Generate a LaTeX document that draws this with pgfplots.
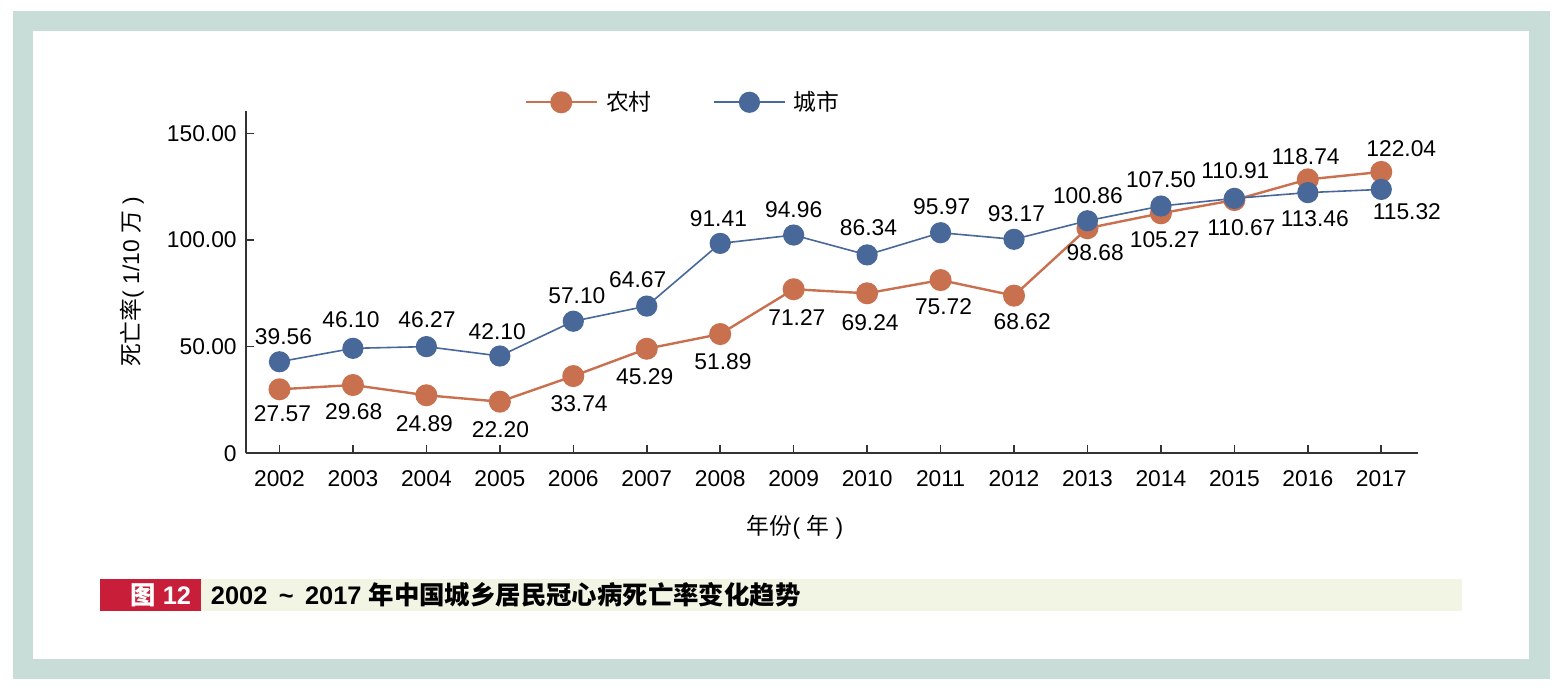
\documentclass[border=0pt]{standalone}
\usepackage{fontspec}
\setmainfont{Liberation Sans}
\newfontfamily\cjk{Noto Sans CJK SC}
\usepackage{pgfplots}
\usepackage{pgfplotstable}
\pgfplotsset{compat=1.18}
\definecolor{ruralc}{RGB}{201,112,79}
\definecolor{urbanc}{RGB}{72,104,154}
\definecolor{framec}{RGB}{200,221,216}
\definecolor{capred}{RGB}{200,30,58}
\definecolor{capbg}{RGB}{242,245,228}
\definecolor{axisgray}{RGB}{51,51,51}

% x: year index, y: plotted position, lbl: printed value, dx/dy: label offset (pt)
\pgfplotstableread{
x y lbl dx dy
0 30.0 27.57 1.5 -12.0
1 32.0 29.68 0.4 -13.3
2 27.2 24.89 -1.0 -14.0
3 24.2 22.20 0.3 -13.8
4 36.2 33.74 2.9 -13.6
5 49.0 45.29 -1.0 -14.0
6 55.9 51.89 1.4 -13.8
7 76.9 71.27 1.6 -14.0
8 75.0 69.24 1.5 -14.7
9 81.2 75.72 1.5 -13.3
10 73.9 68.62 4.1 -13.0
11 105.5 98.68 3.9 -12.2
12 112.5 105.27 1.9 -13.0
13 118.7 110.67 3.5 -13.8
14 128.4 118.74 -1.1 11.6
15 131.9 122.04 10.0 11.5
}\ruraldata

\pgfplotstableread{
x y lbl dx dy
0 42.9 39.56 2.0 12.5
1 49.2 46.10 -1.0 14.1
2 50.0 46.27 0.3 13.3
3 45.6 42.10 -1.3 12.1
4 61.9 57.10 1.8 12.6
5 69.0 64.67 -4.5 13.0
6 98.4 91.41 -0.9 12.5
7 102.3 94.96 0.0 12.5
8 93.0 86.34 0.7 13.6
9 103.4 95.97 0.6 13.0
10 100.3 93.17 1.2 13.0
11 109.0 100.86 0.2 12.8
12 115.9 107.50 0.0 13.0
13 119.5 110.91 0.5 13.8
14 122.2 113.46 3.5 -12.8
15 123.7 115.32 12.8 -11.3
}\urbandata

\begin{document}
\begin{tikzpicture}
\fill[white] (0pt,0pt) rectangle (784pt,350pt);
\fill[framec] (6.35pt,10.35pt) rectangle (775pt,344.5pt);
\fill[white] (16.35pt,20.5pt) rectangle (764.65pt,334.5pt);
\begin{axis}[
  at={(122.85pt,123.35pt)}, anchor=south west,
  scale only axis, width=586.15pt, height=171.3pt,
  xmin=-0.46, xmax=15.5, ymin=0, ymax=160.6,
  axis lines*=left,
  axis line style={axisgray, line width=0.9pt},
  tick style={axisgray, line width=0.8pt},
  tick align=inside, major tick length=4pt,
  xtick={0,1,2,3,4,5,6,7,8,9,10,11,12,13,14,15},
  xticklabels={2002,2003,2004,2005,2006,2007,2008,2009,2010,2011,2012,2013,2014,2015,2016,2017},
  ytick={0,50,100,150}, yticklabels={0,50.00,100.00,150.00},
  tick label style={font=\fontsize{11.4}{13}\selectfont, text=black},
  xticklabel style={yshift=-5.2pt},
  yticklabel style={xshift=-1pt},
  xlabel={{\cjk 年份}( {\cjk 年} )},
  ylabel={{\cjk 死亡率}( 1/10 {\cjk 万} )},
  xlabel style={at={(axis description cs:0.4686,-0.2151)}, anchor=center, font=\fontsize{11.4}{13}\selectfont},
  ylabel style={at={(axis description cs:-0.0972,0.5)}, anchor=center, font=\fontsize{11.4}{13}\selectfont},
  clip=false,
  legend columns=2,
  legend style={at={(axis description cs:0.2323,1.0245)}, anchor=west, draw=none, fill=none,
    font=\fontsize{11.4}{13}\selectfont, column sep=2pt,
    /tikz/every even column/.append style={column sep=28.7pt}},
  legend image code/.code={\draw[mark repeat=2,mark phase=2,#1] plot coordinates {(0pt,0pt) (17.8pt,0pt) (35.6pt,0pt)};},
  nodes near coords,
  point meta=explicit symbolic,
  every node near coord/.append style={font=\fontsize{11.4}{13}\selectfont, text=black, anchor=center, xshift=\mydx pt, yshift=\mydy pt},
]
\addplot[ruralc, line width=1.2pt, mark=*, mark size=4.9pt, mark options={solid, fill=ruralc, draw=ruralc},
  visualization depends on={\thisrow{dx}\as\mydx},
  visualization depends on={\thisrow{dy}\as\mydy}]
  table[x=x, y=y, meta=lbl] {\ruraldata};
\addlegendentry{{\cjk 农村}}
\addplot[urbanc, line width=0.8pt, mark=*, mark size=4.9pt, mark options={solid, fill=urbanc, draw=urbanc},
  visualization depends on={\thisrow{dx}\as\mydx},
  visualization depends on={\thisrow{dy}\as\mydy}]
  table[x=x, y=y, meta=lbl] {\urbandata};
\addlegendentry{{\cjk 城市}}
\end{axis}
\fill[capred] (50.15pt,44.35pt) rectangle (100.5pt,60.35pt);
\fill[capbg] (100.5pt,44.35pt) rectangle (730.8pt,60.35pt);
\node[anchor=center, text=white, inner sep=0pt, font=\bfseries\fontsize{12.7}{14}\selectfont] at (80.35pt,52.35pt) {{\cjk 图} 12};
\node[anchor=west, text=black, inner sep=0pt, font=\bfseries\fontsize{12.7}{14}\selectfont] at (105.25pt,52.35pt) {2002\hspace{0.45em}\textasciitilde\hspace{0.45em}2017 {\cjk 年中国城乡居民冠心病死亡率变化趋势}};
\end{tikzpicture}
\end{document}
